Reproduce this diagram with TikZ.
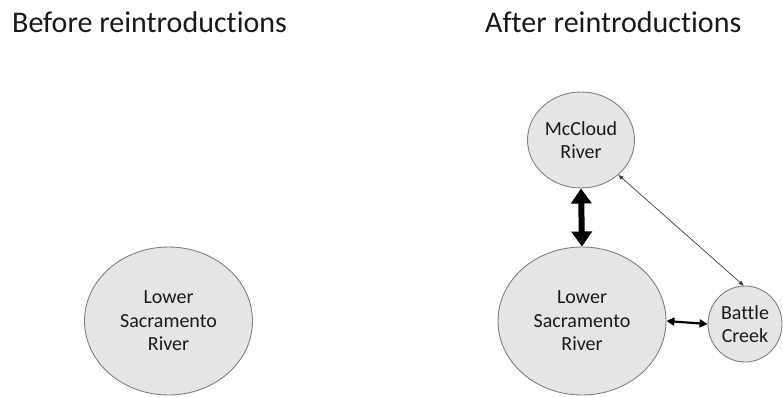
\documentclass[tikz,border=0pt]{standalone}
\usepackage{fontspec}
\setmainfont{Carlito}[Ligatures=NoCommon]
\usetikzlibrary{shapes.geometric,arrows.meta}
\definecolor{cfill}{RGB}{230,228,230}
\definecolor{cdraw}{RGB}{128,128,128}
\definecolor{ctext}{RGB}{25,25,25}
\tikzset{
  river/.style={ellipse, draw=cdraw, line width=0.9pt, fill=cfill, inner sep=0pt,
    align=center, text=ctext, font=\fontsize{20}{23.5}\selectfont},
  title/.style={anchor=base west, inner sep=0pt, text=ctext, font=\fontsize{30}{36}\selectfont},
  bigarrow/.style={line width=6pt, {Triangle[length=15pt,width=20pt]}-{Triangle[length=15pt,width=20pt]}, draw=black},
  midarrow/.style={line width=2.2pt, {Triangle[length=8pt,width=8pt]}-{Triangle[length=8pt,width=8pt]}, draw=black},
  thinarrow/.style={line width=0.7pt, {Triangle[length=5pt,width=4pt]}-{Triangle[length=5pt,width=4pt]}, draw=black!75}
}
\begin{document}
\begin{tikzpicture}[x=1pt,y=-1pt]
\useasboundingbox (0,0) rectangle (783,396);
\node[title] (tb) at (12,33) {Before reintroductions};
\node[title] (ta) at (485,33) {After reintroductions};
\node[river, minimum width=168pt, minimum height=148pt] (lsl) at (168.5,321) {Lower\\Sacramento\\River};
\node[river, minimum width=168pt, minimum height=148pt] (lsr) at (582,321) {Lower\\Sacramento\\River};
\node[river, minimum width=107pt, minimum height=96pt] (mc) at (581,140) {McCloud\\River};
\node[river, minimum width=74pt, minimum height=76pt] (bc) at (745,324) {Battle\\Creek};
\draw[bigarrow] (mc.south) -- (lsr.north);
\draw[midarrow] (lsr.east) -- (bc.west);
\draw[thinarrow] (mc.-43) -- (bc.92);
\end{tikzpicture}
\end{document}
